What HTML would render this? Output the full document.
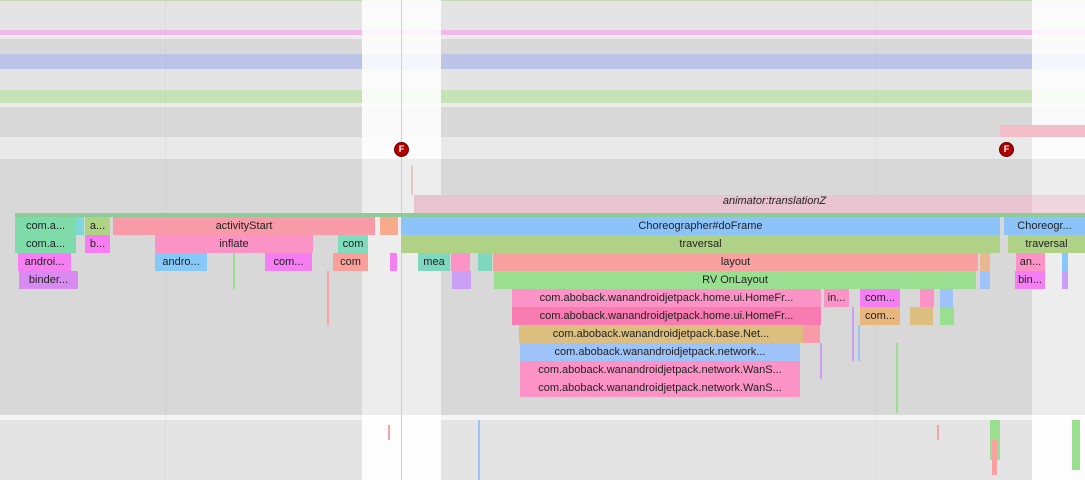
<!DOCTYPE html>
<html><head><style>
body{margin:0;width:1085px;height:480px;overflow:hidden;position:relative;font-family:"Liberation Sans",sans-serif;background:#e4e4e4}
div{position:absolute;box-sizing:border-box}
.s{height:18px;font-size:11px;line-height:18px;text-align:center;color:#222;white-space:nowrap;overflow:hidden}
.t{width:2px}
</style></head><body>
<div style="left:0;top:0;width:1085px;height:30px;background:#e4e4e4"></div>
<div style="left:0;top:0;width:1085px;height:1px;background:#c8d8b0"></div>
<div style="left:0;top:30px;width:1085px;height:5px;background:#f1b8ea"></div>
<div style="left:0;top:35px;width:1085px;height:4px;background:#ececec"></div>
<div style="left:0;top:39px;width:1085px;height:15px;background:#d9d9d9"></div>
<div style="left:0;top:54px;width:1085px;height:15px;background:#bcc4e8"></div>
<div style="left:0;top:69px;width:1085px;height:21px;background:#e4e4e4"></div>
<div style="left:0;top:90px;width:1085px;height:13px;background:#c8e2b8"></div>
<div style="left:0;top:103px;width:1085px;height:4px;background:#ececec"></div>
<div style="left:0;top:107px;width:1085px;height:30px;background:#d9d9d9"></div>
<div style="left:0;top:137px;width:1085px;height:22px;background:#e9e9e9"></div>
<div style="left:0;top:159px;width:1085px;height:256px;background:#d8d8d8"></div>
<div style="left:0;top:415px;width:1085px;height:5px;background:#f4f4f4"></div>
<div style="left:0;top:420px;width:1085px;height:60px;background:#e4e4e4"></div>
<!-- highlight columns -->
<div style="left:362px;top:0;width:79px;height:159px;background:rgba(255,255,255,0.85)"></div>
<div style="left:362px;top:159px;width:79px;height:256px;background:rgba(255,255,255,0.55)"></div>
<div style="left:362px;top:415px;width:79px;height:65px;background:rgba(255,255,255,0.9)"></div>
<div style="left:1032px;top:0;width:53px;height:159px;background:rgba(255,255,255,0.85)"></div>
<div style="left:1032px;top:159px;width:53px;height:256px;background:rgba(255,255,255,0.55)"></div>
<div style="left:1032px;top:415px;width:53px;height:65px;background:rgba(255,255,255,0.9)"></div>
<div style="left:165px;top:0;width:1px;height:480px;background:rgba(0,0,0,0.03)"></div>
<div style="left:875px;top:0;width:1px;height:480px;background:rgba(0,0,0,0.03)"></div>
<div style="left:401px;top:0;width:1px;height:480px;background:#d0d0d0"></div>
<div style="left:1000px;top:125px;width:85px;height:12px;background:#f2bcc8"></div>
<div style="left:414px;top:195px;width:671px;height:18px;background:#e8c3d0;font-size:11px;line-height:12px;font-style:italic;text-align:center;color:#222;padding-left:50px">animator:translationZ</div>
<div style="left:1032px;top:195px;width:53px;height:18px;background:rgba(255,255,255,0.3)"></div>
<div style="left:411px;top:165px;width:2px;height:30px;background:#e0c8c8"></div>
<div style="left:15px;top:213px;width:1070px;height:4px;background:#8dcc99"></div>
<div style="left:394px;top:142px;width:15px;height:15px;border-radius:50%;background:#b00000;border:1px solid #600;color:#fff;font-size:9px;line-height:13px;text-align:center;font-weight:bold">F</div>
<div style="left:999px;top:142px;width:15px;height:15px;border-radius:50%;background:#b00000;border:1px solid #600;color:#fff;font-size:9px;line-height:13px;text-align:center;font-weight:bold">F</div>
<!-- row1 -->
<div class="s" style="left:15px;top:217px;width:61px;background:#7fdcaa">com.a...</div>
<div class="s" style="left:76px;top:217px;width:8px;background:#7fd8d8"></div>
<div class="s" style="left:85px;top:217px;width:25px;background:#afd384">a...</div>
<div class="s" style="left:113px;top:217px;width:262px;background:#f99aa8">activityStart</div>
<div class="s" style="left:380px;top:217px;width:18px;background:#f8ab8c"></div>
<div class="s" style="left:401px;top:217px;width:599px;background:#8cc4fa">Choreographer#doFrame</div>
<div class="s" style="left:1004px;top:217px;width:81px;background:#8cc4fa">Choreogr...</div>
<!-- row2 -->
<div class="s" style="left:15px;top:235px;width:61px;background:#7fdcaa">com.a...</div>
<div class="s" style="left:85px;top:235px;width:25px;background:#f77ef0">b...</div>
<div class="s" style="left:155px;top:235px;width:158px;background:#fb93c6">inflate</div>
<div class="s" style="left:338px;top:235px;width:30px;background:#7fdcbc">com</div>
<div class="s" style="left:401px;top:235px;width:599px;background:#afd286">traversal</div>
<div class="s" style="left:1008px;top:235px;width:77px;background:#afd286">traversal</div>
<!-- row3 -->
<div class="s" style="left:18px;top:253px;width:53px;background:#f57ef2">androi...</div>
<div class="s" style="left:155px;top:253px;width:52px;background:#86c8f8">andro...</div>
<div class="s" style="left:265px;top:253px;width:47px;background:#f57ef2">com...</div>
<div class="s" style="left:333px;top:253px;width:35px;background:#f9a09a">com</div>
<div class="s" style="left:390px;top:253px;width:7px;background:#f57ef2"></div>
<div class="s" style="left:418px;top:253px;width:32px;background:#7ed8c0">mea</div>
<div class="s" style="left:451px;top:253px;width:19px;background:#fb93c6"></div>
<div class="s" style="left:478px;top:253px;width:14px;background:#7ed8c0"></div>
<div class="s" style="left:493px;top:253px;width:485px;background:#f9a0a0">layout</div>
<div class="s" style="left:980px;top:253px;width:10px;background:#e8b890"></div>
<div class="s" style="left:1016px;top:253px;width:29px;background:#fb93c6">an...</div>
<div class="s" style="left:1062px;top:253px;width:6px;background:#86c8f8"></div>
<!-- row4 -->
<div class="s" style="left:19px;top:271px;width:59px;background:#d98af0">binder...</div>
<div class="s" style="left:452px;top:271px;width:19px;background:#c9a0f5"></div>
<div class="s" style="left:494px;top:271px;width:482px;background:#99df8f">RV OnLayout</div>
<div class="s" style="left:980px;top:271px;width:10px;background:#9ec3f8"></div>
<div class="s" style="left:1015px;top:271px;width:30px;background:#f57ef2">bin...</div>
<div class="s" style="left:1062px;top:271px;width:6px;background:#c9a0f5"></div>
<!-- row5 -->
<div class="s" style="left:512px;top:289px;width:309px;background:#fb93c6">com.aboback.wanandroidjetpack.home.ui.HomeFr...</div>
<div class="s" style="left:824px;top:289px;width:25px;background:#fb93c6">in...</div>
<div class="s" style="left:860px;top:289px;width:40px;background:#f57ef2">com...</div>
<div class="s" style="left:920px;top:289px;width:14px;background:#fb93c6"></div>
<div class="s" style="left:940px;top:289px;width:13px;background:#9ec3f8"></div>
<!-- row6 -->
<div class="s" style="left:512px;top:307px;width:309px;background:#f87cb2">com.aboback.wanandroidjetpack.home.ui.HomeFr...</div>
<div class="s" style="left:860px;top:307px;width:40px;background:#e9b67e">com...</div>
<div class="s" style="left:910px;top:307px;width:23px;background:#dcbf7e"></div>
<div class="s" style="left:940px;top:307px;width:14px;background:#99df8f"></div>
<!-- row7 -->
<div class="s" style="left:519px;top:325px;width:284px;background:#dcbf7e">com.aboback.wanandroidjetpack.base.Net...</div>
<div class="s" style="left:803px;top:325px;width:17px;background:#f99aa8"></div>
<div class="s" style="left:520px;top:343px;width:280px;background:#9ec3f8">com.aboback.wanandroidjetpack.network...</div>
<div class="s" style="left:520px;top:361px;width:280px;background:#fb93c6">com.aboback.wanandroidjetpack.network.WanS...</div>
<div class="s" style="left:520px;top:379px;width:280px;background:#fb93c6">com.aboback.wanandroidjetpack.network.WanS...</div>
<!-- small ticks -->
<div class="t" style="left:233px;top:253px;height:36px;background:#99df8f"></div>
<div class="t" style="left:327px;top:271px;height:54px;background:#f9a0a0"></div>
<div class="t" style="left:852px;top:307px;height:54px;background:#c9a0f5"></div>
<div class="t" style="left:858px;top:325px;height:36px;background:#9ec3f8"></div>
<div class="t" style="left:896px;top:343px;height:70px;background:#99df8f"></div>
<div class="t" style="left:820px;top:343px;height:36px;background:#c9a0f5"></div>
<!-- bottom bits -->
<div style="left:990px;top:420px;width:10px;height:40px;background:#99df8f"></div>
<div style="left:992px;top:440px;width:5px;height:35px;background:#f9a0a0"></div>
<div style="left:1072px;top:420px;width:8px;height:50px;background:#99df8f"></div>
<div style="left:478px;top:420px;width:2px;height:60px;background:#9ec3f8"></div>
<div style="left:388px;top:425px;width:2px;height:15px;background:#f9a0a0"></div>
<div style="left:937px;top:425px;width:2px;height:15px;background:#f9a0a0"></div>
</body></html>
